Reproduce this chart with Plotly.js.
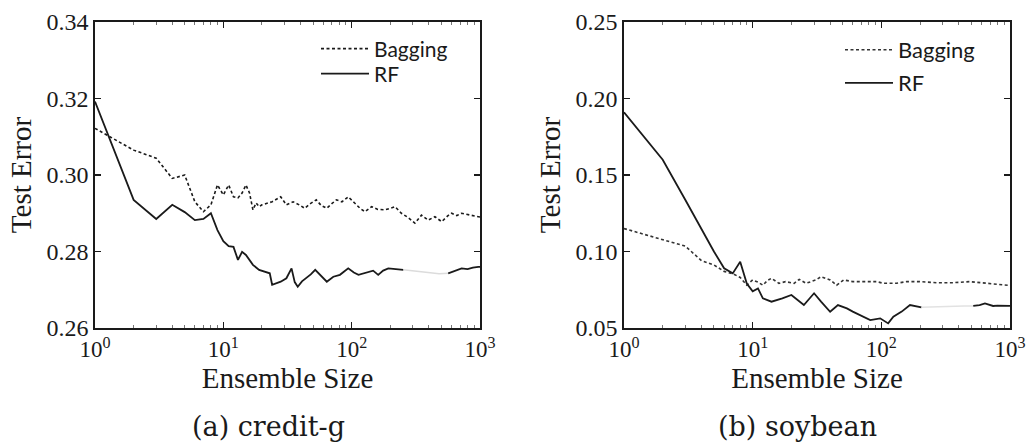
<!DOCTYPE html>
<html>
<head>
<meta charset="utf-8">
<script src="https://cdn.plot.ly/plotly-3.0.1.min.js"></script>
<style>html,body{margin:0;padding:0;background:#fff;}#chart{width:1026px;height:443px;}</style>
</head>
<body>
<div id="chart"></div>
<script>
// ---- credit-g (left panel) ----
const creditBagX = [1,2,3,4,5,6,7,8,9,10,11,12,13,14,15,16,17,18,19,20,24,28,31,35,39,43,48,53,58,64,70,76,84,94,106,117,127,143,160,183,200,218,244,275,311,350,394,445,503,560,601,660,719,790,860,930,1000];
const creditBagY = [0.3122,0.3065,0.3044,0.2991,0.3000,0.2930,0.2904,0.2922,0.2974,0.2948,0.2974,0.2943,0.2940,0.2953,0.2974,0.2953,0.2909,0.2927,0.2917,0.2922,0.2930,0.2943,0.2922,0.2930,0.2922,0.2913,0.2926,0.2935,0.2920,0.2913,0.2925,0.2935,0.2930,0.2943,0.2926,0.2912,0.2904,0.2917,0.2910,0.2909,0.2913,0.2917,0.2900,0.2889,0.2874,0.2895,0.2882,0.2891,0.2878,0.2893,0.2900,0.2894,0.2900,0.2897,0.2895,0.2892,0.2890];
const creditRfX = [1,2,3,4,5,6,7,8,9,10,11,12,13,14,15,17,19,21,23,24,26,28,31,34,36,38,41,44,48,52,58,64,72,81,94,104,113,134,147,161,176,193,220,253];
const creditRfY = [0.3192,0.2935,0.2885,0.2922,0.2903,0.2882,0.2885,0.2900,0.2856,0.2827,0.2814,0.2812,0.2778,0.2799,0.2791,0.2765,0.2752,0.2748,0.2743,0.2713,0.2718,0.2721,0.2730,0.2756,0.2720,0.2708,0.2722,0.2730,0.2740,0.2752,0.2735,0.2721,0.2734,0.2739,0.2756,0.2745,0.2739,0.2747,0.2750,0.2739,0.2750,0.2756,0.2755,0.2752];
const creditRfFaintX = [253,320,400,480,565];
const creditRfFaintY = [0.2752,0.2748,0.2745,0.2742,0.2743];
const creditRfTailX = [565,620,680,719,800,880,970,1000];
const creditRfTailY = [0.2743,0.2748,0.2752,0.2756,0.2754,0.2758,0.2760,0.2760];

// ---- soybean (right panel) ----
const soyBagX = [1,2,3,4,5,6,7,8,9,10,11,12,13,14,16,18,21,23,26,31,34,40,45,51,60,72,82,92,104,131,157,199,268,362,487,619,792,1000];
const soyBagY = [0.1150,0.1075,0.1035,0.0940,0.0912,0.0870,0.0855,0.0830,0.0780,0.0814,0.0800,0.0780,0.0810,0.0825,0.0792,0.0803,0.0792,0.0818,0.0792,0.0814,0.0835,0.0814,0.0780,0.0814,0.0803,0.0803,0.0803,0.0803,0.0792,0.0792,0.0803,0.0803,0.0796,0.0796,0.0803,0.0796,0.0787,0.0778];
const soyRfX = [1,2,3,4,5,6,7,8,9,10,11,12,14,17,20,25,30,34,40,46,54,60,72,82,98,113,124,144,167,188,205];
const soyRfY = [0.1910,0.1600,0.1337,0.1147,0.1000,0.0890,0.0857,0.0933,0.0790,0.0740,0.0759,0.0694,0.0672,0.0694,0.0716,0.0650,0.0727,0.0672,0.0606,0.0650,0.0628,0.0607,0.0574,0.0552,0.0563,0.0530,0.0574,0.0607,0.0650,0.0639,0.0635];
const soyRfFaintX = [205,280,360,440,518];
const soyRfFaintY = [0.0635,0.0640,0.0642,0.0643,0.0644];
const soyRfTailX = [518,580,639,700,739,800,880,968,1000];
const soyRfTailY = [0.0644,0.0650,0.0661,0.0650,0.0644,0.0646,0.0644,0.0644,0.0644];

const xTickVals = [1,10,100,1000];
const xTickText = ['10<sup>0</sup>','10<sup>1</sup>','10<sup>2</sup>','10<sup>3</sup>'];
const creditYTicks = [0.26,0.28,0.30,0.32,0.34];
const soyYTicks = [0.05,0.10,0.15,0.20,0.25];
const seriesNames = ['Bagging','RF'];
const panelCaptions = ['(a) credit-g','(b) soybean'];

// minor log ticks 2..9 within each decade
const minorTicks = [];
for (const d of [1,10,100]) for (let k = 2; k <= 9; k++) minorTicks.push(k*d);

const ink = '#1a1a1a';
const serif = 'Liberation Serif, Times New Roman, serif';
const sans = 'Lato, Open Sans, sans-serif';
const dashStyle = '3px,2.5px';

const traces = [
  {x: creditBagX, y: creditBagY, name: seriesNames[0], mode:'lines', line:{color:ink,width:1.6,dash:dashStyle}, xaxis:'x', yaxis:'y', legend:'legend'},
  {x: creditRfX, y: creditRfY, name: seriesNames[1], mode:'lines', line:{color:ink,width:1.8}, xaxis:'x', yaxis:'y', legend:'legend2'},
  {x: creditRfFaintX, y: creditRfFaintY, mode:'lines', line:{color:'#dcdcdc',width:1.5}, xaxis:'x', yaxis:'y', showlegend:false},
  {x: creditRfTailX, y: creditRfTailY, mode:'lines', line:{color:ink,width:1.8}, xaxis:'x', yaxis:'y', showlegend:false},
  {x: soyBagX, y: soyBagY, name: seriesNames[0], mode:'lines', line:{color:'#333',width:1.6,dash:dashStyle}, xaxis:'x2', yaxis:'y2', legend:'legend3'},
  {x: soyRfX, y: soyRfY, name: seriesNames[1], mode:'lines', line:{color:ink,width:1.8}, xaxis:'x2', yaxis:'y2', legend:'legend4'},
  {x: soyRfFaintX, y: soyRfFaintY, mode:'lines', line:{color:'#e2e2e2',width:1.5}, xaxis:'x2', yaxis:'y2', showlegend:false},
  {x: soyRfTailX, y: soyRfTailY, mode:'lines', line:{color:ink,width:1.8}, xaxis:'x2', yaxis:'y2', showlegend:false}
];

function xAxis(domain, anchor){
  return {
    type:'log', range:[0,3], domain: domain, anchor: anchor,
    tickvals: xTickVals, ticktext: xTickText,
    ticks:'inside', ticklen:6, tickwidth:1.2, tickcolor: ink,
    minor:{tickvals: minorTicks, ticks:'inside', ticklen:3, tickwidth:1, tickcolor:'#777', showgrid:false},
    showline:true, linecolor: ink, linewidth:1.8, mirror:'ticks',
    showgrid:false, zeroline:false,
    tickfont:{family: serif, size:23, color: ink},
    title:{text:'Ensemble Size', font:{family: serif, size:29, color: ink}, standoff: 2},
    fixedrange:true
  };
}
function yAxis(domain, anchor, ticks, range){
  return {
    range: range, domain: domain, anchor: anchor,
    tickvals: ticks, tickformat: '.2f',
    ticks:'inside', ticklen:6, tickwidth:1.2, tickcolor: ink,
    showline:true, linecolor: ink, linewidth:1.8, mirror:'ticks',
    showgrid:false, zeroline:false,
    tickfont:{family: serif, size:24, color: ink},
    title:{text:'Test Error', font:{family: serif, size:29, color: ink}, standoff: 6},
    fixedrange:true
  };
}
function leg(xpx, ypx, size){
  return {x: xpx/1026, y: 1 - ypx/443, xanchor:'left', yanchor:'middle', bgcolor:'rgba(0,0,0,0)',
    font:{family: sans, size: size, color: ink}, itemwidth:48, tracegroupgap:0};
}

const yDom = [1-328/443, 1-22/443];
const layout = {
  width:1026, height:443,
  margin:{l:0,r:0,t:0,b:0},
  paper_bgcolor:'#fff', plot_bgcolor:'#fff',
  showlegend:true,
  xaxis: xAxis([95/1026, 480/1026], 'y'),
  yaxis: yAxis(yDom, 'x', creditYTicks, [0.26,0.34]),
  xaxis2: xAxis([624/1026, 1010/1026], 'y2'),
  yaxis2: yAxis(yDom, 'x2', soyYTicks, [0.05,0.25]),
  legend: leg(316, 49, 21),
  legend2: leg(316, 74, 21),
  legend3: leg(840, 50, 22),
  legend4: leg(840, 83, 22),
  annotations: [
    {text: panelCaptions[0], xref:'paper', yref:'paper', x:268/1026, y:1-426/443, xanchor:'center', yanchor:'middle', showarrow:false, font:{family:'DejaVu Serif, serif', size:27, color: ink}},
    {text: panelCaptions[1], xref:'paper', yref:'paper', x:797/1026, y:1-426/443, xanchor:'center', yanchor:'middle', showarrow:false, font:{family:'DejaVu Serif, serif', size:27, color: ink}}
  ]
};

Plotly.newPlot('chart', traces, layout, {staticPlot:true, displayModeBar:false});
</script>
</body>
</html>
